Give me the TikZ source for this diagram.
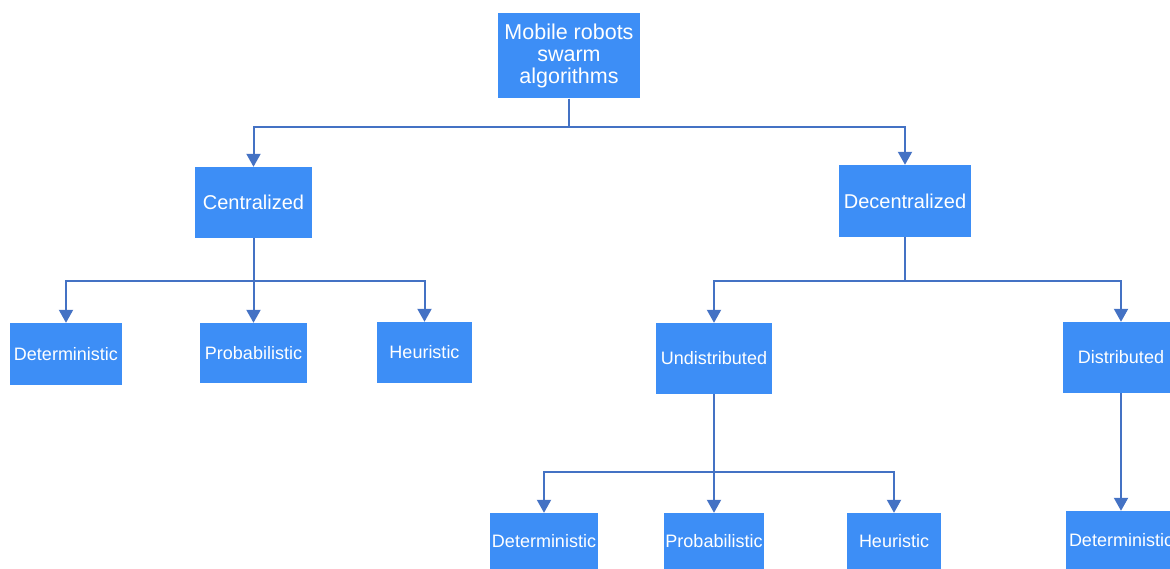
\documentclass[tikz,border=0pt]{standalone}
\usepackage{fontspec}
\setmainfont{Liberation Sans}
\usetikzlibrary{arrows.meta}
\definecolor{boxblue}{HTML}{3D8EF6}
\definecolor{lineblue}{HTML}{4472C4}

\begin{document}
\begin{tikzpicture}[x=1pt, y=-1pt,
	box/.style={fill=boxblue, text=white, inner sep=0pt, align=center, font=\fontsize{18}{20}\selectfont},
	link/.style={draw=lineblue, line width=2pt, -{Triangle[width=14pt,length=13pt]}}]
	%\draw[help lines] (0,0) grid[step=50] (1170,569);
	\useasboundingbox (0,0) rectangle (1170,569);
	\clip (0,0) rectangle (1170,569);
	% top
	\node[box, minimum width=142, minimum height=85, font=\fontsize{21.5}{22}\selectfont] (root) at (569,56) {Mobile robots\\swarm\\algorithms};
	\node[box, minimum width=117, minimum height=71, font=\fontsize{20}{22}\selectfont] (cen) at (253.5,202.5) {Centralized};
	\node[box, minimum width=132, minimum height=72, font=\fontsize{20}{22}\selectfont] (dec) at (905,201) {Decentralized};
	% centralized
	\node[box, minimum width=112, minimum height=62] (det1) at (66,354) {Deterministic};
	\node[box, minimum width=107, minimum height=60] (prob1) at (253.5,353) {Probabilistic};
	\node[box, minimum width=95, minimum height=61] (heur1) at (424.5,352.5) {Heuristic};
	% decentralized
	\node[box, minimum width=116, minimum height=71] (und) at (714,358.5) {Undistributed};
	\node[box, minimum width=116, minimum height=71] (dis) at (1121,357.5) {Distributed};
	\node[box, minimum width=108, minimum height=56] (det2) at (544,541) {Deterministic};
	\node[box, minimum width=100, minimum height=56] (prob2) at (714,541) {Probabilistic};
	\node[box, minimum width=94, minimum height=56] (heur2) at (894,541) {Heuristic};
	\node[box, minimum width=110, minimum height=58] (det3) at (1121,540) {Deterministic};

	\draw[link] (root.south) -- ++(0,28) -| (cen);
	\draw[link] (root.south) -- ++(0,28) -| (dec);
	\draw[link] (cen.south) -- ++(0,43) -| (det1);
	\draw[link] (cen.south) -- (prob1);
	\draw[link] (cen.south) -- ++(0,43) -| (heur1);
	\draw[link] (dec.south) -- ++(0,44) -| (und);
	\draw[link] (dec.south) -- ++(0,44) -| (dis);
	\draw[link] (und.south) -- ++(0,78) -| (det2);
	\draw[link] (und.south) -- (prob2);
	\draw[link] (und.south) -- ++(0,78) -| (heur2);
	\draw[link] (dis.south) -- (det3);
\end{tikzpicture}
\end{document}
